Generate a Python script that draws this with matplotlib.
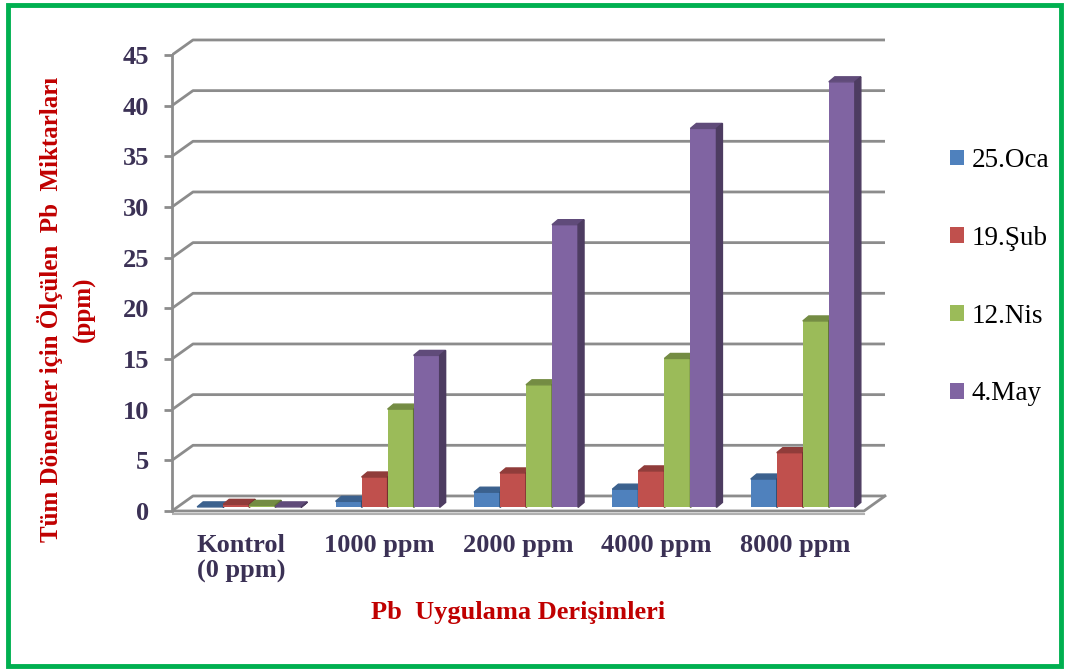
import numpy as np
import matplotlib
matplotlib.use("Agg")
import matplotlib.pyplot as plt
from matplotlib.patches import Polygon, Patch, Rectangle
from matplotlib.colors import to_rgb

# Veriler
kategoriler = ["Kontrol\n(0 ppm)", "1000 ppm", "2000 ppm", "4000 ppm", "8000 ppm"]
donemler = ["25.Oca", "19.Şub", "12.Nis", "4.May"]
oca = [0.05, 0.6, 1.5, 1.8, 2.8]
sub = [0.3, 3.0, 3.4, 3.6, 5.4]
nis = [0.2, 9.7, 12.1, 14.7, 18.4]
may = [0.05, 15.0, 27.9, 37.4, 42.0]
seriler = [oca, sub, nis, may]
renkler = ["#4f81bd", "#c0504d", "#9bbb59", "#8064a2"]
yticks = np.arange(0, 50, 5)

plt.rcParams['font.family'] = ['Liberation Serif', 'DejaVu Serif']

fig = plt.figure(figsize=(10.67, 6.71), dpi=100)
ax = fig.add_axes([172/1067, (671-521.1)/671, 730/1067, 486.4/671])
ax.set_xlim(-0.5, -0.5 + 730/138.4)
ax.set_ylim(-1, 47)

# derinlik (duvar) kaydirmasi, veri biriminde
dx, dy = 21/138.4, 15/10.133
# sutun derinligi ve konumu
bdx, bdy = 6/138.4, 5/10.133
ofx, ofy = 8/138.4, 0.35
gri = "#8c8c8c"

# arka duvar cizgileri
for v in yticks:
    ax.plot([-0.5, -0.5+dx, 4.5+dx], [v, v+dy, v+dy], color=gri, lw=2, zorder=1,
            solid_capstyle='butt')
# zemin
ax.plot([-0.5, 4.5, 4.5+dx], [0, 0, dy], color=gri, lw=2, zorder=1)
ax.plot([-0.5, 4.5], [-0.25, -0.25], color="#b0b0b0", lw=1.5, zorder=1)

def koyu(c, f):
    r, g, b = to_rgb(c)
    return (r*f, g*f, b*f)

w = 0.188
x = np.arange(len(kategoriler))
z = 2
for i in range(len(kategoriler)):
    for j, s in enumerate(seriler):
        x0 = x[i] - 2*w + j*w + ofx
        h = s[i]
        y0 = ofy
        c = renkler[j]
        ax.bar(x0, h, width=w, bottom=y0, align='edge', color=c, zorder=z)
        top = [(x0, y0+h), (x0+w, y0+h), (x0+w+bdx, y0+h+bdy), (x0+bdx, y0+h+bdy)]
        ax.add_patch(Polygon(top, closed=True, color=koyu(c, 0.75), zorder=z))
        side = [(x0+w, y0), (x0+w+bdx, y0+bdy), (x0+w+bdx, y0+h+bdy), (x0+w, y0+h)]
        ax.add_patch(Polygon(side, closed=True, color=koyu(c, 0.6), zorder=z))
        z += 1

for k in ['top', 'right', 'bottom']:
    ax.spines[k].set_visible(False)
ax.spines['left'].set_bounds(0, 45)
ax.spines['left'].set_color(gri)
ax.spines['left'].set_linewidth(2)
ax.set_yticks(yticks)
ax.set_yticklabels([str(v) for v in yticks], fontsize=19, fontweight='bold', color="#3b3155")
ax.tick_params(axis='y', length=6, width=2, color=gri, pad=10.5)
ax.set_xticks(x)
ax.set_xticklabels(kategoriler, fontsize=19, fontweight='bold', color="#3b3155",
                   linespacing=1.15)
ax.tick_params(axis='x', length=0, pad=9)

fig.text(50/1067, 1-309/671, "Tüm Dönemler için Ölçülen  Pb  Miktarları", rotation=90,
         ha='center', va='center', fontsize=18, fontweight='bold', color="#c00000")
fig.text(84/1067, 1-309/671, "(ppm)", rotation=90,
         ha='center', va='center', fontsize=18, fontweight='bold', color="#c00000")
fig.text(518/1067, 1-613/671, "Pb  Uygulama Derişimleri", ha='center', va='center',
         fontsize=19, fontweight='bold', color="#c00000")

handles = [Patch(facecolor=c) for c in renkler]
fig.legend(handles, donemler, loc='upper left', bbox_to_anchor=(950/1067, 1-148/671),
           frameon=False, fontsize=19.5, handlelength=0.5, handleheight=0.5,
           handletextpad=0.3, labelspacing=1.95, borderaxespad=0, borderpad=0)

fig.patches.append(Rectangle((8/1067, 5/671), 1053/1067, 661/671, transform=fig.transFigure,
                             fill=False, edgecolor="#00b050", lw=3.5))

fig.savefig("out.png", dpi=100)
